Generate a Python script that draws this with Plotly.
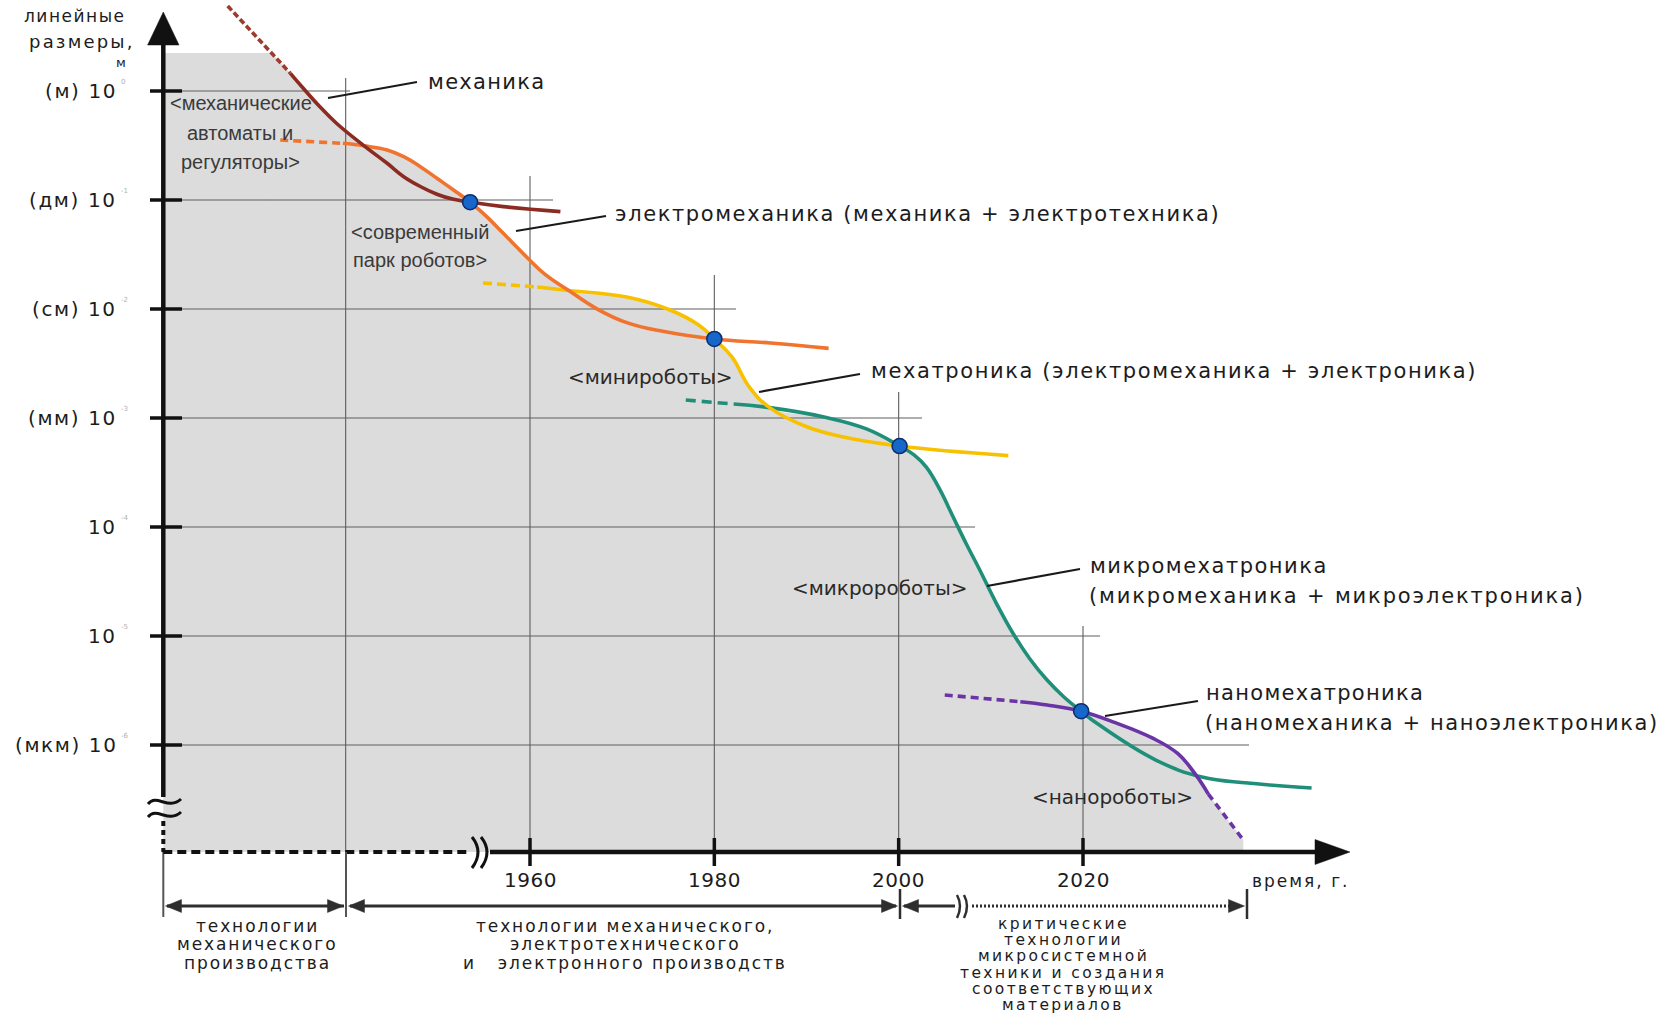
import plotly.graph_objects as go

# ---------------- data ----------------
# x: years, y: log10 of the linear size in metres
tick_years = [1960, 1980, 2000, 2020]
tick_labels = ["1960", "1980", "2000", "2020"]
size_exponents = [0, -1, -2, -3, -4, -5, -6]
size_units = ["(м) ", "(дм) ", "(см) ", "(мм) ", "", "", "(мкм) "]
size_sups = ["0", "-1", "-2", "-3", "-4", "-5", "-6"]

# механика (brown)
mech_dot_x = [1927.2, 1934.0]
mech_dot_y = [0.78, 0.162]
mech_x = [1934.0, 1935.4, 1937.2, 1939.0, 1942.0, 1944.5, 1946.3, 1948.1, 1949.9, 1951.7,
          1953.5, 1957.1, 1963.3]
mech_y = [0.162, 0.025, -0.144, -0.296, -0.503, -0.663, -0.786, -0.876, -0.947, -0.994,
          -1.02, -1.061, -1.107]

# электромеханика (orange)
elec_dash_x = [1932.9, 1939.7]
elec_dash_y = [-0.45, -0.48]
elec_x = [1939.7, 1942.0, 1944.5, 1946.3, 1948.1, 1949.9, 1951.7, 1953.5, 1955.3, 1957.1,
          1959.6, 1961.6, 1964.2, 1967.4, 1970.5, 1974.4, 1980.0, 1986.1, 1992.4]
elec_y = [-0.48, -0.503, -0.541, -0.603, -0.694, -0.801, -0.908, -1.02, -1.153, -1.306,
          -1.52, -1.68, -1.83, -2.005, -2.125, -2.205, -2.275, -2.312, -2.361]

# мехатроника (yellow)
mecha_dash_x = [1954.9, 1960.8]
mecha_dash_y = [-1.761, -1.798]
mecha_x = [1960.8, 1964.2, 1970.5, 1975.2, 1978.3, 1980.0, 1981.9, 1983.8, 1986.0, 1990.1,
           1994.0, 2000.1, 2011.9]
mecha_y = [-1.798, -1.83, -1.89, -2.009, -2.147, -2.275, -2.44, -2.716, -2.905, -3.083,
           -3.174, -3.257, -3.345]

# микромехатроника (teal)
micro_dash_x = [1976.9, 1982.1]
micro_dash_y = [-2.835, -2.872]
micro_x = [1982.1, 1986.0, 1991.9, 1996.5, 2000.1, 2001.7, 2003.0, 2004.5, 2005.9, 2007.4,
           2008.8, 2010.6, 2012.4, 2014.2, 2016.1, 2017.9, 2019.8, 2021.5, 2027.9, 2032.9,
           2037.9, 2044.8]
micro_y = [-2.872, -2.905, -2.991, -3.10, -3.257, -3.34, -3.45, -3.661, -3.906, -4.165,
           -4.394, -4.70, -4.975, -5.206, -5.404, -5.557, -5.69, -5.801, -6.138, -6.294,
           -6.349, -6.394]

# наномехатроника (purple)
nano_dash_x = [2005.0, 2013.2]
nano_dash_y = [-5.541, -5.603]
nano_x = [2013.2, 2016.1, 2019.8, 2023.5, 2027.5, 2030.3, 2032.2, 2033.6]
nano_y = [-5.603, -5.633, -5.69, -5.795, -5.935, -6.08, -6.27, -6.45]
nano_tail_x = [2033.6, 2037.4]
nano_tail_y = [-6.45, -6.872]

# transition points (blue dots)
dots_x = [1953.5, 1980.0, 2000.1, 2019.8]
dots_y = [-1.02, -2.275, -3.257, -5.69]

# crossings where the shaded area switches from one curve to the next
cross_x = [1942.0, 1964.2, 1986.0, 2019.8]

# ---------------- layout geometry ----------------
W, H = 1670, 1017
X0_PX, X0_YEAR, PX_PER_YEAR = 530.0, 1960.0, 9.2167
Y0_PX, PX_PER_DEC = 91.0, 109.0
SMOOTH = 1.2


def fx(px):
    return X0_YEAR + (px - X0_PX) / PX_PER_YEAR


def fy(py):
    return -(py - Y0_PX) / PX_PER_DEC


def P(px, py):
    return f"{fx(px):.4f},{fy(py):.4f}"


MAIN = "DejaVu Sans"
ARIAL = "Liberation Sans"
TXT = "#1c1c1c"
GRAY = "#dcdcdc"
GRID = "#5e5e5e"
AX = "#111111"
C_MECH = "#8c2b22"
C_MECH_DOT = "#9e3a2e"
C_ELEC = "#f0732e"
C_MECHA = "#f8c100"
C_MICRO = "#1f8f7a"
C_NANO = "#6a34a6"

YAX_PX = 163.3
XAX_PY = 852.0
top_e = fy(53)
axis_e = fy(XAX_PY)

fig = go.Figure()

# ---------------- shaded area ----------------
x_top = mech_dot_x[0] + (mech_dot_y[0] - top_e) / (mech_dot_y[0] - mech_dot_y[1]) * (mech_dot_x[1] - mech_dot_x[0])
mech_all_x = mech_dot_x + mech_x[1:]
mech_all_y = mech_dot_y + mech_y[1:]
c1, c2, c3, c4 = cross_x
env = [(x_top, top_e)]
env += [(x, y) for x, y in zip(mech_all_x, mech_all_y) if x_top < x <= c1]
env += [(x, y) for x, y in zip(elec_x, elec_y) if c1 < x <= c2]
env += [(x, y) for x, y in zip(mecha_x, mecha_y) if c2 < x <= c3]
env += [(x, y) for x, y in zip(micro_x, micro_y) if c3 < x <= c4]
env += [(x, y) for x, y in zip(nano_x + nano_tail_x[1:], nano_y + nano_tail_y[1:]) if x > c4]

fig.add_trace(go.Scatter(x=[x_top, env[-1][0]], y=[axis_e, axis_e], mode="lines",
                         line=dict(width=0, color=GRAY), hoverinfo="skip"))
fig.add_trace(go.Scatter(x=[p[0] for p in env], y=[p[1] for p in env], mode="lines",
                         line=dict(width=0, color=GRAY, shape="spline", smoothing=SMOOTH),
                         fill="tonexty", fillcolor=GRAY, hoverinfo="skip"))

shapes = []
shapes.append(dict(type="rect", xref="x", yref="y", x0=fx(YAX_PX), x1=x_top + 0.05,
                   y0=axis_e, y1=top_e, fillcolor=GRAY, line=dict(width=0), layer="below"))

# ---------------- grid lines (as a trace, over the shading) ----------------
vgrid = [(1940, fy(78), fy(917)), (1960, fy(176), axis_e), (1980, fy(275), axis_e),
         (2000, fy(392), axis_e), (2020, fy(626), axis_e)]
hgrid_end = [fx(350), fx(553), fx(736), fx(922), fx(975), fx(1100), fx(1249)]
gx, gy = [], []
for xv, ya, yb in vgrid:
    gx += [xv, xv, None]
    gy += [ya, yb, None]
for e, xe in zip(size_exponents, hgrid_end):
    gx += [fx(YAX_PX), xe, None]
    gy += [e, e, None]
fig.add_trace(go.Scatter(x=gx, y=gy, mode="lines", line=dict(color=GRID, width=1.1),
                         hoverinfo="skip"))


# ---------------- curves ----------------
def curve(x, y, color, dash=None, shape="spline", width=3.6):
    fig.add_trace(go.Scatter(x=x, y=y, mode="lines", hoverinfo="skip",
                             line=dict(color=color, width=width, dash=dash or "solid",
                                       shape=shape, smoothing=SMOOTH)))


curve(elec_dash_x, elec_dash_y, C_ELEC, dash="8px,5px", shape="linear")
curve(mecha_dash_x, mecha_dash_y, C_MECHA, dash="9px,5px", shape="linear")
curve(micro_dash_x, micro_dash_y, C_MICRO, dash="10px,6px", shape="linear")
curve(nano_dash_x, nano_dash_y, C_NANO, dash="8px,5px", shape="linear")
curve(nano_tail_x, nano_tail_y, C_NANO, dash="7px,5px", shape="linear")
curve(mech_dot_x, mech_dot_y, C_MECH_DOT, dash="6px,3px", shape="linear")
curve(micro_x, micro_y, C_MICRO)
curve(nano_x, nano_y, C_NANO)
curve(mecha_x, mecha_y, C_MECHA)
curve(elec_x, elec_y, C_ELEC)
curve(mech_x, mech_y, C_MECH)

fig.add_trace(go.Scatter(x=dots_x, y=dots_y, mode="markers", hoverinfo="skip",
                         marker=dict(size=15, color="#1766c9",
                                     line=dict(color="#0c2f6e", width=1.6))))


# ---------------- axes drawn as shapes ----------------
def line(x0, y0, x1, y1, color=AX, width=4, dash="solid"):
    shapes.append(dict(type="line", xref="x", yref="y", x0=fx(x0), y0=fy(y0), x1=fx(x1),
                       y1=fy(y1), line=dict(color=color, width=width, dash=dash),
                       layer="above"))


def path(d, color=AX, width=3, fill=None):
    s = dict(type="path", xref="x", yref="y", path=d, layer="above",
             line=dict(color=color, width=width))
    if fill:
        s["fillcolor"] = fill
        s["line"] = dict(color=fill, width=0.5)
    shapes.append(s)


def tri(a, b, c, color=AX):
    path(f"M {P(*a)} L {P(*b)} L {P(*c)} Z", fill=color)


# y axis
line(YAX_PX, 40, YAX_PX, 797, width=4.5)
tri((YAX_PX, 12), (179, 45), (147.6, 45))
for e in size_exponents:
    line(150, Y0_PX - e * PX_PER_DEC, 182, Y0_PX - e * PX_PER_DEC, width=3.5)
path(f"M {P(148, 804)} C {P(157, 793)} {P(168, 811)} {P(181, 799)}", width=3)
path(f"M {P(148, 817)} C {P(157, 806)} {P(168, 824)} {P(181, 812)}", width=3)
line(YAX_PX, 821, YAX_PX, XAX_PY, width=4, dash="5px,4px")
line(YAX_PX, XAX_PY, YAX_PX, 917, color="#555555", width=2)

# x axis
line(YAX_PX, XAX_PY, 468, XAX_PY, width=4, dash="9px,5px")
path(f"M {P(472, 837)} Q {P(484, 852)} {P(472, 868)}", width=3)
path(f"M {P(481, 837)} Q {P(493, 852)} {P(481, 868)}", width=3)
line(490, XAX_PY, 1320, XAX_PY, width=4.5)
tri((1350, XAX_PY), (1315, 839.5), (1315, 864.5))
for yr in tick_years:
    xp = X0_PX + (yr - X0_YEAR) * PX_PER_YEAR
    line(xp, 838, xp, 866, width=3.5)

# period brackets
BR = "#2e2e2e"
BY = 906
line(167, BY, 344, BY, color=BR, width=3)
line(350, BY, 896, BY, color=BR, width=3)
line(904, BY, 955, BY, color=BR, width=3)
line(972, BY, 1232, BY, color=BR, width=3, dash="2px,2px")
path(f"M {P(957, 895)} Q {P(963, 906)} {P(957, 918)}", color=BR, width=2.5)
path(f"M {P(964, 895)} Q {P(970, 906)} {P(964, 918)}", color=BR, width=2.5)
line(346, XAX_PY, 346, 917, color="#555555", width=2)
line(900, 889, 900, 919, color=BR, width=2.5)
line(1247, 889, 1247, 919, color=BR, width=2.5)
for tip, d in [(165.5, 1), (343.5, -1), (348.5, 1), (897.5, -1), (902.5, 1), (1244.5, -1)]:
    tri((tip, BY), (tip + d * 16, BY - 6.5), (tip + d * 16, BY + 6.5), color=BR)

# leader lines
for (a, b, c, d) in [(328, 98, 417, 82), (516, 231, 606, 216), (759, 392, 860, 374),
                     (987, 586, 1080, 569), (1105, 716, 1198, 701)]:
    line(a, b, c, d, color="#1a1a1a", width=2.2)

# ---------------- texts ----------------
ann = []


def text(px, py, s, size=21, family=MAIN, color=TXT, xanchor="left", ls=0.0):
    if ls:
        s = f'<span style="letter-spacing:{ls}px">{s}</span>'
    ann.append(dict(x=fx(px), y=fy(py), xref="x", yref="y", text=s, showarrow=False,
                    xanchor=xanchor, yanchor="middle",
                    font=dict(family=family, size=size, color=color)))


# axis titles
text(128, 16, "линейные", size=17, xanchor="right", ls=1.5)
text(137, 41, "размеры,", size=18, xanchor="right", ls=2.2)
text(128, 62, "м", size=13, xanchor="right")
text(1300, 881, "время, г.", size=17, xanchor="center", ls=2)

# y tick labels (+ tiny, faint exponents as in the reference)
for e, u, sp in zip(size_exponents, size_units, size_sups):
    yp = Y0_PX - e * PX_PER_DEC
    text(119, yp, f"{u}10", size=20, xanchor="right", ls=1.6)
    text(119, yp - 9, sp, size=7, color="#b0b0b0", xanchor="left")

# x tick labels
for yr, lab in zip(tick_years, tick_labels):
    xp = X0_PX + (yr - X0_YEAR) * PX_PER_YEAR
    text(xp, 880, lab, size=20, xanchor="center", ls=0.5)

# curve labels
text(426, 82, "механика", ls=1.3)
text(613, 214, "электромеханика (механика + электротехника)", ls=1.6)
text(869, 371, "мехатроника (электромеханика + электроника)", ls=1.6)
text(1088, 566, "микромехатроника", ls=1.5)
text(1087, 596, "(микромеханика + микроэлектроника)", ls=1.85)
text(1204, 693, "наномехатроника", ls=1.3)
text(1203, 723, "(наномеханика + наноэлектроника)", ls=1.6)

# robot generations
GT = "#3a3a3a"
text(241, 103, "&lt;механические", size=20, family=ARIAL, color=GT, xanchor="center")
text(240, 133, "автоматы и", size=20, family=ARIAL, color=GT, xanchor="center")
text(240, 162, "регуляторы&gt;", size=20, family=ARIAL, color=GT, xanchor="center")
text(420, 232, "&lt;современный", size=20, family=ARIAL, color=GT, xanchor="center")
text(420, 260, "парк роботов&gt;", size=20, family=ARIAL, color=GT, xanchor="center")
text(650, 377, "&lt;минироботы&gt;", size=20, color="#2a2a2a", xanchor="center")
text(880, 588, "&lt;микророботы&gt;", size=20, color="#2a2a2a", xanchor="center")
text(1112, 797, "&lt;нанороботы&gt;", size=20, color="#2a2a2a", xanchor="center")

# periods
for i, s in enumerate(["технологии", "механического", "производства"]):
    text(257, 925.5 + 18.5 * i, s, size=17, xanchor="center", ls=1.9)
for i, s in enumerate(["технологии механического,", "электротехнического",
                       "и   электронного производств"]):
    text(625, 925.5 + 18.5 * i, s, size=17, xanchor="center", ls=1.9)
for i, s in enumerate(["критические", "технологии", "микросистемной",
                       "техники и создания", "соответствующих", "материалов"]):
    text(1063, 924 + 16.2 * i, s, size=15.5, xanchor="center", ls=2.4)

fig.update_layout(
    width=W, height=H, margin=dict(l=0, r=0, t=0, b=0),
    paper_bgcolor="white", plot_bgcolor="white", showlegend=False, hovermode=False,
    xaxis=dict(range=[fx(0), fx(W)], visible=False, fixedrange=True),
    yaxis=dict(range=[fy(H), fy(0)], visible=False, fixedrange=True),
    shapes=shapes, annotations=ann,
)

fig.write_html("out.html", config={"displayModeBar": False},
               post_script="document.body.style.margin='0px';")
